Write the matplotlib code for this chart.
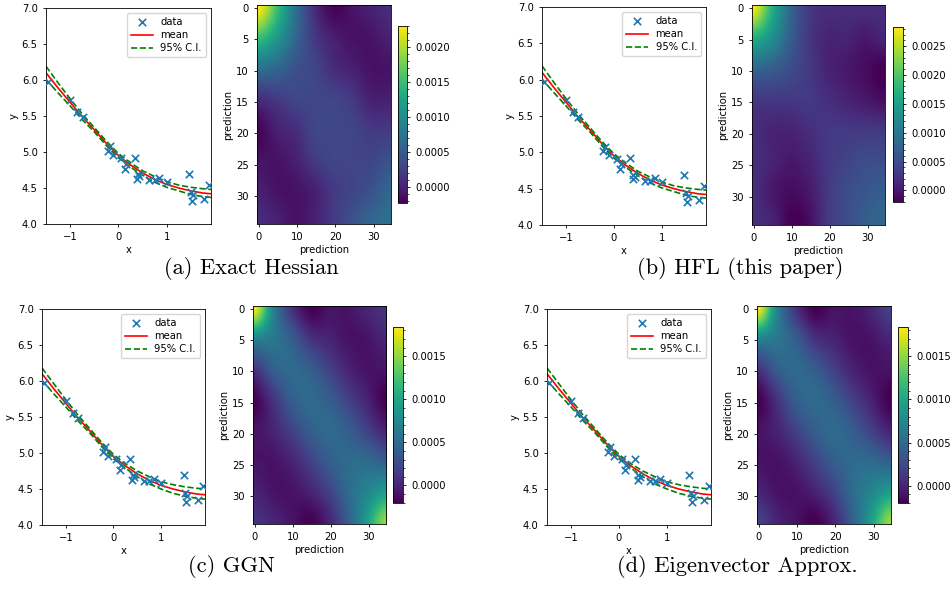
import numpy as np
import matplotlib.pyplot as plt

plt.rcParams['font.size'] = 7.2
plt.rcParams['axes.linewidth'] = 0.6
plt.rcParams['xtick.major.size'] = 2.5
plt.rcParams['ytick.major.size'] = 2.5
plt.rcParams['xtick.major.width'] = 0.6
plt.rcParams['ytick.major.width'] = 0.6
plt.rcParams['ytick.minor.size'] = 1.5
plt.rcParams['ytick.minor.width'] = 0.5

# observations, same in all four panels
data_x = [-1.45, -1.0, -0.85, -0.74, -0.18, -0.22, -0.11, 0.06, 0.15, 0.13, 0.34, 0.40,
          0.39, 0.43, 0.64, 0.75, 0.85, 1.0, 1.47, 1.50, 1.52, 1.55, 1.78, 1.88]
data_y = [5.97, 5.72, 5.55, 5.48, 5.08, 5.02, 4.96, 4.91, 4.84, 4.77, 4.92, 4.69,
          4.63, 4.66, 4.61, 4.61, 4.64, 4.59, 4.69, 4.44, 4.32, 4.40, 4.35, 4.54]

# predictive mean and 95% band read along x
curve_x = [-1.5, -1.25, -1.0, -0.75, -0.5, -0.25, 0.0, 0.25, 0.5, 0.75, 1.0, 1.25, 1.5, 1.75, 1.92]
mean_y = [6.10, 5.89, 5.69, 5.49, 5.31, 5.12, 4.95, 4.82, 4.71, 4.62, 4.55, 4.50, 4.46, 4.43, 4.42]
ci_hi_ab = [6.19, 5.96, 5.74, 5.53, 5.34, 5.15, 4.98, 4.85, 4.74, 4.66, 4.59, 4.54, 4.51, 4.49, 4.48]
ci_lo_ab = [6.01, 5.82, 5.64, 5.45, 5.28, 5.09, 4.92, 4.79, 4.68, 4.58, 4.51, 4.46, 4.41, 4.38, 4.37]
ci_hi_cd = [6.18, 5.96, 5.74, 5.53, 5.34, 5.15, 4.98, 4.85, 4.75, 4.67, 4.60, 4.56, 4.53, 4.51, 4.50]
ci_lo_cd = [6.01, 5.82, 5.64, 5.45, 5.28, 5.09, 4.92, 4.79, 4.67, 4.57, 4.50, 4.44, 4.40, 4.37, 4.36]

# covariance of the 35 predictions, sampled on an 8x8 grid of indices 0..34 (units of 1e-4)
grid_idx = [0, 4.86, 9.71, 14.57, 19.43, 24.29, 29.14, 34]
cov_exact = [[23, 15, 7, 1, -2, -1, 0, 1],
             [15, 11, 6, 2, 0, -1, -1, 0],
             [7, 6, 4, 3, 1, 0, -1, -1],
             [1, 2, 3, 3, 3, 2, 0, 0],
             [-2, 0, 1, 3, 3, 3, 2, 2],
             [-1, -1, 0, 2, 3, 3, 3, 4],
             [0, -1, -1, 0, 2, 3, 4, 6],
             [1, 0, -1, 0, 2, 4, 6, 7]]
cov_hfl = [[28, 17, 8, 3, 2, 2, 2, 2],
           [17, 13, 7, 3, 1, 1, 0, 1],
           [8, 7, 5, 3, 1, 0, -1, -2],
           [3, 3, 3, 3, 2, 1, 0, -1],
           [2, 1, 1, 2, 3, 3, 3, 3],
           [2, 1, 0, 1, 3, 4, 5, 5],
           [2, 0, -1, 0, 3, 5, 6, 7],
           [2, 1, -2, -1, 3, 5, 7, 8]]
cov_ggn = [[18, 7, 1, -2, -1, -1, 0, 1],
           [7, 6, 4, 1, 0, -1, -1, 0],
           [1, 4, 5, 4, 2, 0, -1, -1],
           [-2, 1, 4, 5, 4, 2, 0, -2],
           [-1, 0, 2, 4, 5, 4, 2, 0],
           [-1, -1, 0, 2, 4, 5, 5, 4],
           [0, -1, -1, 0, 2, 5, 7, 9],
           [1, 0, -1, -2, 0, 4, 9, 15]]
cov_eig = [[18, 7, 1, -2, -1, -1, 0, 2],
           [7, 6, 4, 1, 0, -1, -1, 0],
           [1, 4, 5, 4, 2, 0, -1, -1],
           [-2, 1, 4, 5, 4, 2, 0, -2],
           [-1, 0, 2, 4, 5, 4, 2, 0],
           [-1, -1, 0, 2, 4, 5, 5, 4],
           [0, -1, -1, 0, 2, 5, 7, 9],
           [2, 0, -1, -2, 0, 4, 9, 15]]

# colour limits
clims = [(-0.000225, 0.0023), (-0.0002, 0.00283), (-0.000205, 0.00184), (-0.0002, 0.00184)]
captions = ['(a) Exact Hessian', '(b) HFL (this paper)', '(c) GGN', '(d) Eigenvector Approx.']

W, H = 951, 591
# pixel boxes (left, top, right, bottom): scatter, heatmap, colorbar; then caption centre
layout = [
    ((46, 8, 211, 224), (257, 5, 391, 224), (398, 26, 407, 203), (251, 268)),
    ((542, 7, 706, 225), (752, 5, 885, 225), (893, 27, 903, 202), (740, 268)),
    ((42, 309, 205, 525), (253, 306, 386, 524), (393, 327, 403, 503), (231, 567)),
    ((547, 309, 711, 525), (757, 306, 891, 524), (898, 327, 908, 503), (737, 567)),
]


def px_axes(fig, box):
    l, t, r, b = box
    return fig.add_axes([l / W, 1 - b / H, (r - l) / W, (b - t) / H])


fig = plt.figure(figsize=(W / 100, H / 100), dpi=100)

covs = [cov_exact, cov_hfl, cov_ggn, cov_eig]
cis = [(ci_hi_ab, ci_lo_ab), (ci_hi_ab, ci_lo_ab), (ci_hi_cd, ci_lo_cd), (ci_hi_cd, ci_lo_cd)]

# image extent so that the sample centres fall on grid_idx
step = (grid_idx[-1] - grid_idx[0]) / (len(grid_idx) - 1)
lo, hi = grid_idx[0] - step / 2, grid_idx[-1] + step / 2

for k in range(4):
    box_s, box_h, box_c, cap = layout[k]

    ax = px_axes(fig, box_s)
    ax.scatter(data_x, data_y, marker='x', s=28, linewidths=1.2, color='tab:blue', label='data', zorder=3)
    ax.plot(curve_x, mean_y, color='red', lw=1.2, label='mean')
    ax.plot(curve_x, cis[k][0], '--', color='green', lw=1.2, label='95% C.I.')
    ax.plot(curve_x, cis[k][1], '--', color='green', lw=1.2)
    ax.set_xlim(-1.5, 1.92)
    ax.set_ylim(4.0, 7.0)
    ax.set_xticks([-1, 0, 1])
    ax.set_yticks(np.arange(4.0, 7.01, 0.5))
    ax.set_xlabel('x', labelpad=2)
    ax.set_ylabel('y', labelpad=2)
    ax.legend(loc='upper right', fontsize=7.2, borderpad=0.4, handlelength=2.2, labelspacing=0.3)

    axh = px_axes(fig, box_h)
    im = axh.imshow(np.array(covs[k]) * 1e-4, cmap='viridis', extent=(lo, hi, hi, lo), aspect='auto',
                    interpolation='catrom', interpolation_stage='data',
                    vmin=clims[k][0], vmax=clims[k][1])
    axh.set_xlim(-0.5, 34.5)
    axh.set_ylim(34.5, -0.5)
    axh.set_xticks([0, 10, 20, 30])
    axh.set_yticks([0, 5, 10, 15, 20, 25, 30])
    axh.set_xlabel('prediction', labelpad=2)
    axh.set_ylabel('prediction', labelpad=2)

    cax = px_axes(fig, box_c)
    cb = fig.colorbar(im, cax=cax)
    cb.set_ticks(np.arange(0, clims[k][1], 0.0005))
    cb.ax.yaxis.set_major_formatter(plt.FormatStrFormatter('%.4f'))
    cb.ax.minorticks_on()
    cb.outline.set_linewidth(0.6)

    fig.text(cap[0] / W, 1 - cap[1] / H, captions[k], family='cmr10', fontsize=16.2,
             ha='center', va='center')

fig.savefig('out.png', dpi=100)
